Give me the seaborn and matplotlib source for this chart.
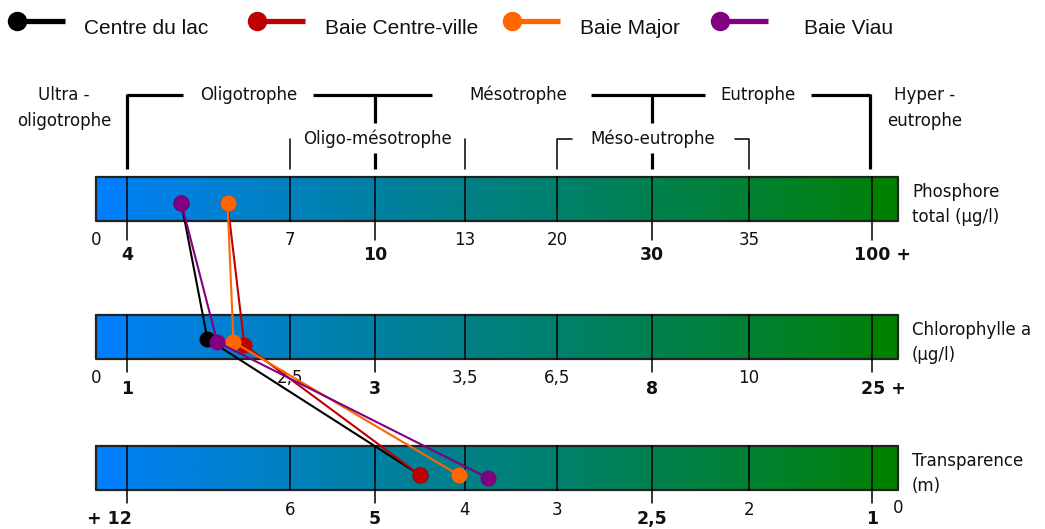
import numpy as np
import pandas as pd
import seaborn as sns
import matplotlib.pyplot as plt

# données des sites
sites = ["Centre du lac", "Baie Centre-ville", "Baie Major", "Baie Viau"]
site_colors = ["#000000", "#c00000", "#ff6600", "#800080"]

phosphore = [5.0, 5.85, 5.85, 5.0]        # µg/l
chlorophylle = [1.74, 2.08, 1.98, 1.83]   # µg/l
transparence = [4.5, 4.5, 4.07, 3.75]     # m

# bornes des classes sur chaque échelle
phos_bounds = [0, 4, 7, 10, 13, 20, 30, 35, 100]
chl_bounds = [0, 1, 2.5, 3, 3.5, 6.5, 8, 10, 25]
transp_bounds = [12, 6, 5, 4, 3, 2.5, 2, 1, 0]

phos_labels = ["0", "4", "7", "10", "13", "20", "30", "35", "100 +"]
chl_labels = ["0", "1", "2,5", "3", "3,5", "6,5", "8", "10", "25 +"]
transp_labels = ["+ 12", "6", "5", "4", "3", "2,5", "2", "1", "0"]

var_names = ["Phosphore\ntotal (µg/l)", "Chlorophylle a\n(µg/l)", "Transparence\n(m)"]

# --- mise en page (pixels) ---
W, H = 1045, 529
bar_x0, bar_x1 = 96, 898
div_px = [96, 127, 290, 375, 465, 557, 652, 749, 872, 898]
major = [1, 3, 6, 8]
bar_tops = [177, 315, 446]
bar_h = 44
tick_len = [19, 13, 13]
# petit décalage vertical des points (par variable, par site)
dot_dy = [[4, 4, 4, 4], [2, 8, 5, 5], [7, 7, 7, 10]]

sns.set_theme(style="white")
plt.rcParams['font.family'] = ['DejaVu Sans']

fig = plt.figure(figsize=(W / 100, H / 100), dpi=100)
ax = fig.add_axes([0, 0, 1, 1])


def to_px(vals, bounds, px):
    b = np.array(bounds, dtype=float)
    p = np.array(px, dtype=float)
    if b[0] > b[-1]:
        b, p = b[::-1], p[::-1]
    return np.interp(vals, b, p)


# barres en dégradé bleu -> vert
xs = np.linspace(bar_x0, bar_x1, 800)
blue = np.interp(xs, [127, 872], [238, 12])
blue[xs < 127] = 255
blue[xs > 872] = 0
grad = np.zeros((1, len(xs), 3))
grad[0, :, 1] = 128 / 255
grad[0, :, 2] = blue / 255

for k, top in enumerate(bar_tops):
    bot = top + bar_h
    ax.imshow(grad, extent=[bar_x0, bar_x1, bot, top], aspect='auto', zorder=1)
    ax.plot([bar_x0, bar_x1, bar_x1, bar_x0, bar_x0], [top, top, bot, bot, top],
            color="#222222", lw=1.6, zorder=2)
    for i in range(1, 9):
        ax.plot([div_px[i]] * 2, [top, bot], color="black", lw=1.1, zorder=2)
    for i in major:
        ax.plot([div_px[i]] * 2, [bot, bot + tick_len[k]], color="black", lw=1.1, zorder=2)
    ax.text(912, top + 6, var_names[k], ha='left', va='top', fontsize=12,
            linespacing=1.5, color="#111111")

# étiquettes des graduations
lab_y = [(240, 255), (378, 389), (510, 519)]
for k, labels in enumerate([phos_labels, chl_labels, transp_labels]):
    for i, lab in enumerate(labels):
        idx = i + 1 if k == 2 else i
        x = div_px[idx]
        bold = idx in major
        if lab.endswith("+"):
            x += 11
        if lab.startswith("+"):
            x -= 18
        y = lab_y[k][1] if bold else lab_y[k][0]
        if (k == 2 and idx == 9):
            y = 508
        ax.text(x, y, lab, ha='center', va='center', fontsize=12 if not bold else 12.5,
                fontweight='bold' if bold else 'normal', color="#111111")

# accolades des classes trophiques
thick = dict(color="black", lw=2.3, solid_capstyle='butt')
thin = dict(color="black", lw=1.1)
for x0, x1 in [(127, 183), (313, 432), (591, 705), (811, 870)]:
    ax.plot([x0, x1], [95, 95], **thick)
for x in [127, 870]:
    ax.plot([x, x], [94, 169], **thick)
for x in [375, 652]:
    ax.plot([x, x], [95, 123], **thick)
    ax.plot([x, x], [153, 169], **thick)
for x in [290, 465]:
    ax.plot([x, x], [139, 169], **thin)
ax.plot([557, 557, 572], [169, 139, 139], **thin)
ax.plot([735, 749, 749], [139, 139, 169], **thin)

top_txt = [("Ultra -\noligotrophe", 64, 108), ("Oligotrophe", 249, 95),
           ("Mésotrophe", 518, 95), ("Eutrophe", 758, 95),
           ("Hyper -\neutrophe", 925, 108), ("Oligo-mésotrophe", 378, 139),
           ("Méso-eutrophe", 653, 139)]
for t, x, y in top_txt:
    ax.text(x, y, t, ha='center', va='center', fontsize=12, linespacing=1.55,
            color="#111111")

# points et liaisons
rows = []
for i, s in enumerate(sites):
    vals = [to_px(phosphore[i], phos_bounds, div_px[:9]),
            to_px(chlorophylle[i], chl_bounds, div_px[:9]),
            to_px(transparence[i], transp_bounds, div_px[1:])]
    for k in range(3):
        rows.append({"site": s, "step": k, "x": vals[k],
                     "y": bar_tops[k] + bar_h / 2 + dot_dy[k][i]})
df = pd.DataFrame(rows)

sns.lineplot(data=df, x="x", y="y", hue="site", hue_order=sites,
             palette=dict(zip(sites, site_colors)), sort=False, estimator=None,
             marker="o", markersize=11.5, markeredgewidth=0, linewidth=1.5,
             legend=False, ax=ax, zorder=5)

# légende
leg_x = [17, 257, 512, 720]
leg_txt_x = [84, 325, 580, 804]
for i, s in enumerate(sites):
    ax.plot([leg_x[i], leg_x[i] + 48], [21, 21], color=site_colors[i], lw=3.8,
            solid_capstyle='butt')
    ax.plot(leg_x[i], 21, 'o', color=site_colors[i], ms=14, mew=0)
    ax.text(leg_txt_x[i], 29, s, ha='left', va='center', fontsize=15,
            family=['Liberation Sans'], color="#111111")

ax.set_xlim(0, W)
ax.set_ylim(H, 0)
ax.axis('off')

fig.savefig("out.png", dpi=100)
